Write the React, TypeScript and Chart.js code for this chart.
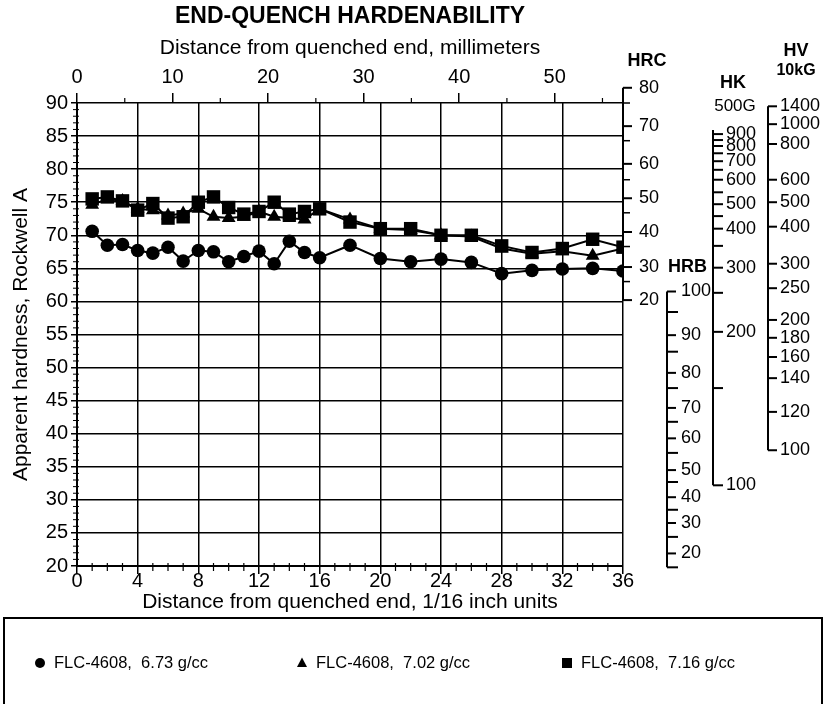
import React, { useEffect, useRef } from 'react';
import { Chart, registerables } from 'chart.js';

Chart.register(...registerables);

// ---- data ----
const distance16ths = [1, 2, 3, 4, 5, 6, 7, 8, 9, 10, 11, 12, 13, 14, 15, 16, 18, 20, 22, 24, 26, 28, 30, 32, 34, 36];
const hra673 = [70.6, 68.5, 68.6, 67.7, 67.3, 68.2, 66.1, 67.7, 67.5, 66.0, 66.8, 67.6, 65.7, 69.1, 67.4, 66.6, 68.5, 66.5, 66.0, 66.4, 65.9, 64.2, 64.7, 64.9, 65.0, 64.6];
const hra702 = [74.6, 75.5, 75.2, 74.0, 73.8, 73.0, 73.3, 74.0, 72.8, 72.6, 72.8, 73.6, 72.8, 72.6, 72.4, 74.0, 72.4, 71.0, 70.8, 70.0, 69.8, 68.0, 67.2, 67.6, 66.9, 68.0];
const hra716 = [75.5, 75.8, 75.2, 73.8, 74.8, 72.6, 72.8, 75.0, 75.8, 74.2, 73.2, 73.6, 75.0, 73.2, 73.6, 74.0, 72.0, 71.0, 71.0, 70.0, 70.0, 68.4, 67.4, 68.0, 69.4, 68.2];
const seriesLabels = ['FLC-4608,  6.73 g/cc', 'FLC-4608,  7.02 g/cc', 'FLC-4608,  7.16 g/cc'];
const seriesStyles = ['circle', 'triangle', 'rect'];

const mmPerSixteenth = 1.5875;

// conversion scales: label values and their Rockwell A equivalents
const hrcLabels = ['80', '70', '60', '50', '40', '30', '20'];
const hrcAtHRA = [92.3, 86.5, 80.8, 75.6, 70.5, 65.2, 60.2];
const hrcMinorAtHRA = [90.0, 84.3, 78.4, 73.4, 68.3, 63.0];

const hrbLabels = ['100', '90', '80', '70', '60', '50', '40', '30', '20'];
const hrbAtHRA = [61.5, 54.9, 49.2, 43.9, 39.3, 34.5, 30.4, 26.5, 21.9];
const hrbMinorAtHRA = [58.4, 52.4, 46.9, 41.8, 37.1, 32.7, 28.5, 24.4, 19.8];

const hkLabels = ['900', '800', '700', '600', '500', '400', '300', '200', '100'];
const hkAtHRA = [85.3, 83.5, 81.2, 78.4, 74.7, 71.0, 65.1, 55.4, 32.2];
const hkMinorAtHRA = [84.4, 82.4, 79.9, 76.5, 72.9, 68.4, 61.3, 46.9];

const hvLabels = ['1400', '1000', '800', '600', '500', '400', '300', '250', '200', '180', '160', '140', '120', '100'];
const hvAtHRA = [89.5, 86.8, 83.8, 78.4, 75.0, 71.3, 65.7, 62.0, 57.2, 54.5, 51.6, 48.4, 43.3, 37.5];

const FONT = '"Liberation Sans", Arial, Helvetica, sans-serif';

function drawMarker(ctx: CanvasRenderingContext2D, style: string, x: number, y: number, r: number) {
  ctx.beginPath();
  if (style === 'circle') {
    ctx.arc(x, y, r, 0, Math.PI * 2);
  } else if (style === 'triangle') {
    ctx.moveTo(x, y - r * 1.1);
    ctx.lineTo(x + r, y + r * 0.8);
    ctx.lineTo(x - r, y + r * 0.8);
    ctx.closePath();
  } else {
    ctx.rect(x - r, y - r, 2 * r, 2 * r);
  }
  ctx.fill();
}

const extrasPlugin = {
  id: 'extras',
  afterDraw(chart: any) {
    const ctx: CanvasRenderingContext2D = chart.ctx;
    const ys = chart.scales.y;
    const xs = chart.scales.x;
    const x2 = chart.scales.x2;
    const area = chart.chartArea;
    const line = (a: number, b: number, c: number, d: number, w = 1.5) => {
      ctx.lineWidth = w;
      ctx.beginPath();
      ctx.moveTo(a, b);
      ctx.lineTo(c, d);
      ctx.stroke();
    };
    ctx.save();
    ctx.strokeStyle = '#000';
    ctx.fillStyle = '#000';

    // minor ticks
    for (let v = 20; v <= 90; v++) {
      if (v % 5 === 0) continue;
      const py = ys.getPixelForValue(v);
      line(area.left - 4, py, area.left + 2, py, 1);
    }
    for (let v = 0; v <= 36; v++) {
      if (v % 4 === 0) continue;
      const px = xs.getPixelForValue(v);
      line(px, area.bottom - 3, px, area.bottom + 5, 1.2);
    }
    for (let mm = 5; mm < 57; mm += 10) {
      const px = x2.getPixelForValue(mm);
      line(px, area.top - 5, px, area.top, 1.2);
    }

    ctx.font = `18px ${FONT}`;
    ctx.textBaseline = 'middle';
    ctx.textAlign = 'left';

    // HRC scale
    const hrcX = area.right;
    line(hrcX, ys.getPixelForValue(hrcAtHRA[0]), hrcX, ys.getPixelForValue(hrcAtHRA[hrcAtHRA.length - 1]), 2);
    hrcAtHRA.forEach((v, i) => {
      const py = ys.getPixelForValue(v);
      line(hrcX, py, hrcX + 9, py, 2);
      ctx.fillText(hrcLabels[i], hrcX + 16, py);
    });
    hrcMinorAtHRA.forEach((v) => {
      const py = ys.getPixelForValue(v);
      line(hrcX, py, hrcX + 7, py, 1.5);
    });
    ctx.textAlign = 'center';
    ctx.font = `bold 18px ${FONT}`;
    ctx.fillText('HRC', hrcX + 24, 61);

    // HRB scale
    const hrbX = area.right + 44;
    ctx.font = `bold 18px ${FONT}`;
    ctx.textAlign = 'left';
    ctx.fillText('HRB', hrbX + 1, ys.getPixelForValue(hrcAtHRA[5]));
    ctx.font = `18px ${FONT}`;
    line(hrbX, ys.getPixelForValue(hrbAtHRA[0]), hrbX, ys.getPixelForValue(hrbMinorAtHRA[hrbMinorAtHRA.length - 1]), 2);
    hrbAtHRA.forEach((v, i) => {
      const py = ys.getPixelForValue(v);
      line(hrbX, py, hrbX + 9, py, 2);
      ctx.fillText(hrbLabels[i], hrbX + 14, py);
    });
    hrbMinorAtHRA.forEach((v) => {
      const py = ys.getPixelForValue(v);
      line(hrbX, py, hrbX + 11, py, 2);
    });

    // HK scale
    const hkX = area.right + 90;
    line(hkX, ys.getPixelForValue(hkAtHRA[0]) - 4, hkX, ys.getPixelForValue(hkAtHRA[hkAtHRA.length - 1]), 2);
    hkAtHRA.forEach((v, i) => {
      const py = ys.getPixelForValue(v);
      line(hkX, py, hkX + 10, py, 2);
      ctx.fillText(hkLabels[i], hkX + 13, py);
    });
    hkMinorAtHRA.forEach((v) => {
      const py = ys.getPixelForValue(v);
      line(hkX, py, hkX + 10, py, 2);
    });
    ctx.textAlign = 'center';
    ctx.font = `bold 18px ${FONT}`;
    ctx.fillText('HK', hkX + 20, 83);
    ctx.font = `17px ${FONT}`;
    ctx.fillText('500G', hkX + 22, 106);

    // HV scale
    const hvX = area.right + 145;
    ctx.font = `18px ${FONT}`;
    ctx.textAlign = 'left';
    line(hvX, ys.getPixelForValue(hvAtHRA[0]), hvX, ys.getPixelForValue(hvAtHRA[hvAtHRA.length - 1]), 2);
    hvAtHRA.forEach((v, i) => {
      const py = ys.getPixelForValue(v);
      line(hvX, py, hvX + 9, py, 2);
      ctx.fillText(hvLabels[i], hvX + 12, py);
    });
    ctx.textAlign = 'center';
    ctx.font = `bold 18px ${FONT}`;
    ctx.fillText('HV', hvX + 28, 51);
    ctx.font = `bold 16px ${FONT}`;
    ctx.fillText('10kG', hvX + 28, 71);

    // legend box
    ctx.lineWidth = 2;
    ctx.strokeRect(4, 618, 818, 100);
    const legendX = [40, 302, 567];
    ctx.font = `16.5px ${FONT}`;
    ctx.textAlign = 'left';
    chart.data.datasets.forEach((ds: any, i: number) => {
      drawMarker(ctx, seriesStyles[i], legendX[i], 663, 5);
      ctx.fillText(ds.label, legendX[i] + 14, 663);
    });

    ctx.restore();
  },
};

export default function App() {
  const ref = useRef<HTMLCanvasElement>(null);

  useEffect(() => {
    if (!ref.current) return;
    const seriesValues = [hra673, hra702, hra716];
    const radii = [6.8, 8, 9.5];
    const chart = new Chart(ref.current, {
      type: 'line',
      data: {
        datasets: seriesValues.map((vals, i) => ({
          label: seriesLabels[i],
          data: distance16ths.map((d, j) => ({ x: d, y: vals[j] })),
          borderColor: '#000',
          backgroundColor: '#000',
          borderWidth: 2,
          pointStyle: seriesStyles[i] as any,
          pointRadius: radii[i],
          pointBorderWidth: 0,
          tension: 0,
        })),
      },
      options: {
        responsive: false,
        animation: false,
        devicePixelRatio: 1,
        layout: { padding: { left: 0, right: 204, top: 0, bottom: 89 } },
        plugins: {
          legend: { display: false },
          tooltip: { enabled: false },
          title: {
            display: true,
            text: 'END-QUENCH HARDENABILITY',
            fullSize: false,
            color: '#000',
            font: { family: FONT, size: 23, weight: 'bold' },
            padding: { top: 3, bottom: 0 },
          },
        },
        scales: {
          x: {
            type: 'linear',
            position: 'bottom',
            min: 0,
            max: 36,
            ticks: { stepSize: 4, color: '#000', font: { family: FONT, size: 20 }, padding: -5, maxRotation: 0 },
            grid: { color: '#000', lineWidth: 1.5, tickLength: 8, tickColor: '#000' },
            border: { color: '#000', width: 2 },
            title: {
              display: true,
              text: 'Distance from quenched end, 1/16 inch units',
              color: '#000',
              font: { family: FONT, size: 21 },
              padding: { top: 0, bottom: 0 },
            },
            afterFit: (s: any) => {
              s.height = 49;
            },
          },
          x2: {
            type: 'linear',
            position: 'top',
            min: 0,
            max: 36 * mmPerSixteenth,
            ticks: { stepSize: 10, includeBounds: false, color: '#000', font: { family: FONT, size: 20 }, padding: 3.5, maxRotation: 0 },
            grid: { drawOnChartArea: false, color: '#000', lineWidth: 1.5, tickLength: 10 },
            border: { display: false },
            title: {
              display: true,
              text: 'Distance from quenched end, millimeters',
              color: '#000',
              font: { family: FONT, size: 21 },
              padding: { top: 5, bottom: 0 },
            },
            afterFit: (s: any) => {
              s.height = 72.4;
            },
          },
          y: {
            type: 'linear',
            min: 20,
            max: 90,
            ticks: { stepSize: 5, color: '#000', font: { family: FONT, size: 20 }, padding: 3 },
            grid: { color: '#000', lineWidth: 1.5, tickLength: 6, tickColor: '#000' },
            border: { color: '#000', width: 2 },
            title: {
              display: true,
              text: 'Apparent hardness, Rockwell A',
              color: '#000',
              font: { family: FONT, size: 21 },
              padding: { top: 9, bottom: 0 },
            },
            afterFit: (s: any) => {
              s.width = 77;
            },
          },
        },
      } as any,
      plugins: [extrasPlugin],
    });
    return () => chart.destroy();
  }, []);

  return (
    <div style={{ position: 'fixed', left: 0, top: 0, width: 827, height: 704, background: '#fff' }}>
      <canvas ref={ref} width={827} height={704} style={{ display: 'block' }} />
    </div>
  );
}
